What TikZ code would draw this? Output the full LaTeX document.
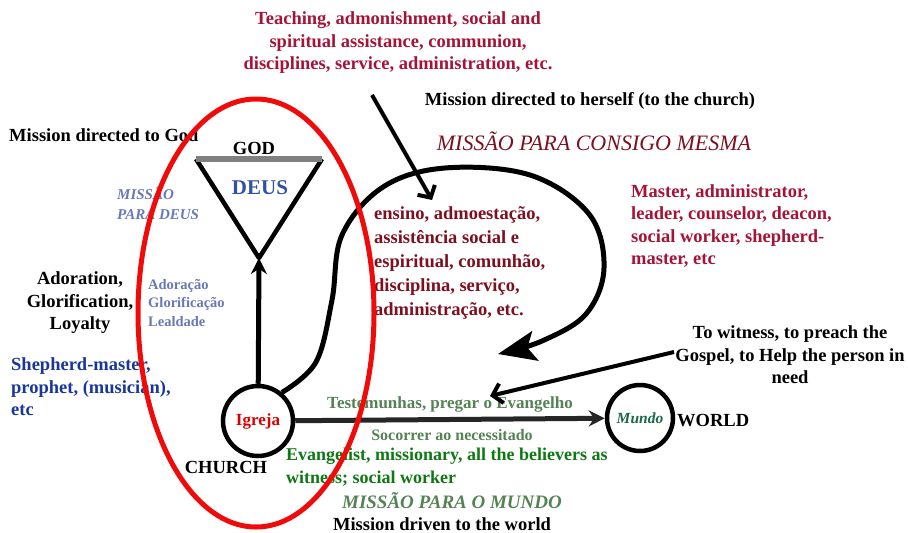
\documentclass[tikz,border=0pt]{standalone}
\usepackage{fontspec}
\setmainfont{Liberation Serif}
\usetikzlibrary{arrows.meta}
\definecolor{crimson}{RGB}{165,20,55}
\definecolor{wine}{RGB}{125,15,30}
\definecolor{navy}{RGB}{25,55,155}
\definecolor{paleblue}{RGB}{105,120,185}
\definecolor{deusblue}{RGB}{50,80,165}
\definecolor{leaf}{RGB}{15,120,20}
\definecolor{sage}{RGB}{85,130,85}
\definecolor{mundogreen}{RGB}{25,105,70}
\definecolor{redring}{RGB}{240,10,10}
\begin{document}
\begin{tikzpicture}[x=1pt,y=-1pt,
  engl/.style={font=\bfseries\fontsize{18.5}{22.5}\selectfont, align=center, inner sep=0pt},
  port/.style={font=\bfseries\fontsize{18.5}{24}\selectfont, text=wine, align=left, inner sep=0pt},
  circ/.style={draw, circle, line width=4.5pt, inner sep=0pt},
  thick arrow/.style={line width=5pt, -{Stealth[length=16pt,width=16pt]}},
  thin arrow/.style={line width=4pt, -{Straight Barb[length=9pt,width=20pt]}},
  loop arrow/.style={line width=5pt, -{Stealth[length=38pt,width=30pt,inset=8pt]}}]
\useasboundingbox (0,0) rectangle (908,533);

% ---- top captions
\node[engl, text=crimson] (teach) at (398,43)
  {Teaching, admonishment, social and\\spiritual assistance, communion,\\disciplines, service, administration, etc.};
\node[engl] (selfmission) at (590,101) {Mission directed to herself (to the church)};
\node[font=\itshape\fontsize{22}{24}\selectfont, text=wine, inner sep=0pt] (consigo) at (594,141) {MISSÃO PARA CONSIGO MESMA};

% ---- God side
\node[engl, anchor=west] (godmission) at (9,135) {Mission directed to God};
\node[engl] (godlabel) at (254,148) {GOD};
\coordinate (tl) at (196,159);
\coordinate (tr) at (322,159);
\coordinate (apex) at (259,258);
\draw[line width=4.5pt, line join=round] (tl) -- (apex) -- (tr);
\draw[line width=6pt, gray] (tl) -- (tr);
\node[font=\bfseries\fontsize{21}{24}\selectfont, text=deusblue] (deus) at (260,188) {DEUS};
\node[font=\bfseries\itshape\fontsize{15}{20}\selectfont, text=paleblue, align=left, anchor=west, inner sep=0pt] (paradeus) at (117,203) {MISSÃO\\PARA DEUS};

\node[engl] (adoration) at (80,303) {Adoration,\\Glorification,\\Loyalty};
\node[font=\bfseries\fontsize{14.5}{18.5}\selectfont, text=paleblue, align=left, anchor=west, inner sep=0pt] (adoracao) at (148,303) {Adoração\\Glorificação\\Lealdade};
\node[engl, text=navy, align=left, anchor=west] (shepherd) at (11,387) {Shepherd-master,\\prophet, (musician),\\etc};

% ---- church and world
\node[circ, minimum size=70pt] (igreja) at (258,421) {};
\node[font=\bfseries\fontsize{17}{18}\selectfont, text=red!85!black] at (igreja) {Igreja};
\node[engl] (church) at (226,467) {CHURCH};
\node[circ, minimum size=66pt] (mundo) at (640,418) {};
\node[font=\bfseries\itshape\fontsize{15.5}{17}\selectfont, text=mundogreen] at (mundo) {Mundo};
\node[engl, anchor=west] (world) at (677,421) {WORLD};

\draw[thick arrow] (igreja) -- (apex);
\draw[thick arrow, black!85] (igreja) -- (mundo);

\node[font=\bfseries\fontsize{17}{18}\selectfont, text=sage, inner sep=0pt] (testemunhas) at (450,404) {Testemunhas, pregar o Evangelho};
\node[font=\bfseries\fontsize{16}{17}\selectfont, text=sage, inner sep=0pt] (socorrer) at (452,435) {Socorrer ao necessitado};
\node[engl, text=leaf, align=left, anchor=west, font=\bfseries\fontsize{18}{23.5}\selectfont] (evangelist) at (286,467)
  {Evangelist, missionary, all the believers as\\witness; social worker};
\node[font=\bfseries\itshape\fontsize{19}{20}\selectfont, text=sage, inner sep=0pt] (paramundo) at (452,501) {MISSÃO PARA O MUNDO};
\node[engl] (driven) at (442,524) {Mission driven to the world};

% ---- mission to the church itself
\node[port, anchor=west] (ensino) at (374,263)
  {ensino, admoestação,\\assistência social e\\espiritual, comunhão,\\disciplina, serviço,\\administração, etc.};
\node[engl, text=crimson, align=left, anchor=west] (master) at (631,226)
  {Master, administrator,\\leader, counselor, deacon,\\social worker, shepherd-\\master, etc};
\node[engl] (witness) at (790,355) {To witness, to preach the\\Gospel, to Help the person in\\need};

\coordinate (loopend) at (498,354);
\draw[loop arrow] plot[smooth, tension=0.6] coordinates
  {(igreja.50) (316,362) (332,300) (342,235) (383,187) (445,168) (530,175) (589,214) (604,268) (586,314) (542,341) (loopend)};

\coordinate (teachfoot) at (372,95);
\coordinate (ensinohead) at (432,200);
\draw[thin arrow] (teachfoot) -- (ensinohead);
\coordinate (witnessfoot) at (674,352);
\coordinate (arrowmark) at (490,396);
\draw[thin arrow] (witnessfoot) -- (arrowmark);

% ---- red ring around God and the church
\draw[redring, line width=5pt] (256,313) ellipse [x radius=118, y radius=214];
\end{tikzpicture}
\end{document}
